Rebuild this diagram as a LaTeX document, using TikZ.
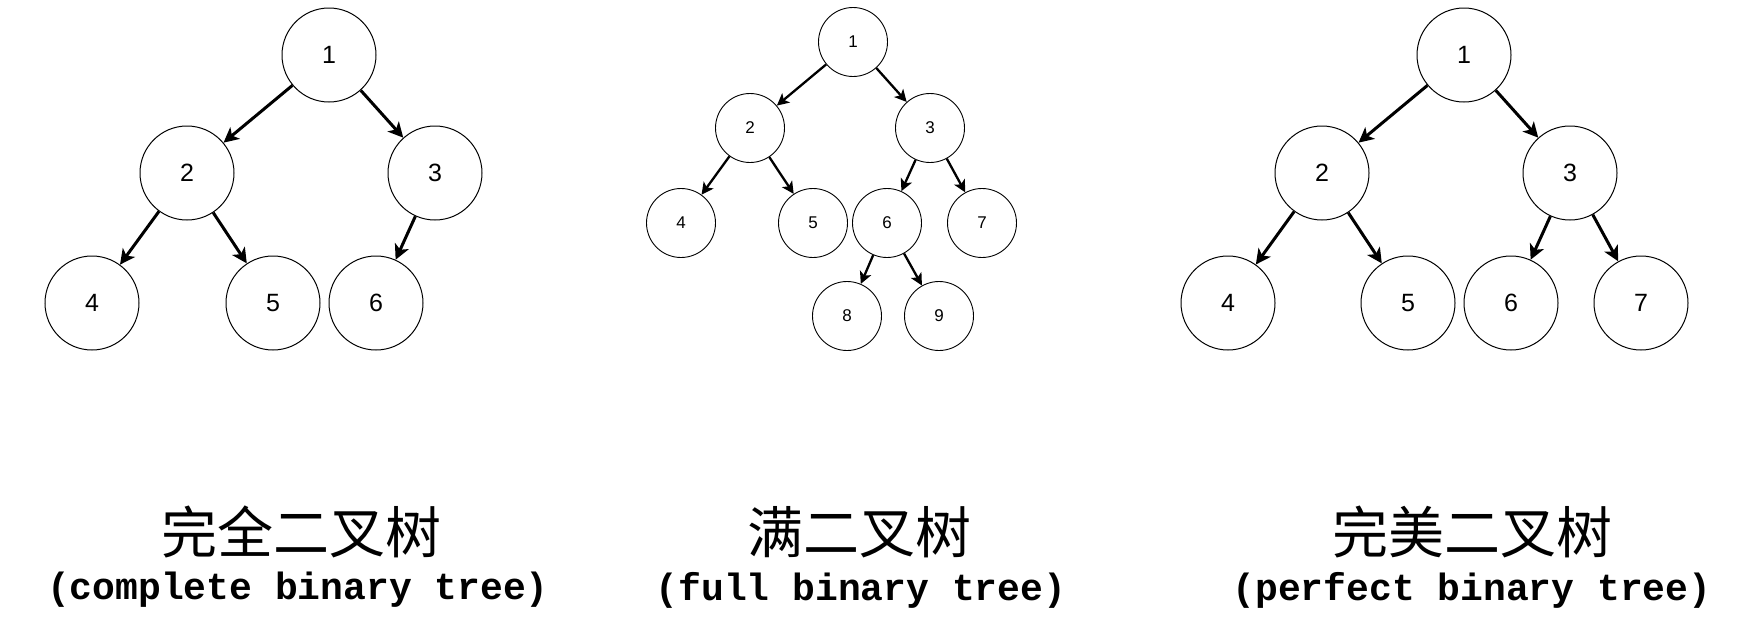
\documentclass[tikz,border=0pt]{standalone}
\usepackage{fontspec}
\setmainfont{Liberation Sans}
\newfontfamily\cjkfont{Noto Sans CJK SC}
\newfontfamily\monofont{Liberation Mono}
\usetikzlibrary{arrows.meta,shapes.geometric}
\tikzset{
  bignode/.style={circle,draw,line width=1pt,minimum size=94pt,inner sep=0pt,font=\fontsize{25}{25}\selectfont},
  smallnode/.style={circle,draw,line width=0.9pt,minimum size=69pt,inner sep=0pt,font=\fontsize{17}{17}\selectfont},
  bigedge/.style={line width=3pt,-{Stealth[length=15pt,width=15pt,inset=4pt]}},
  smalledge/.style={line width=2.3pt,-{Stealth[length=12pt,width=12pt,inset=3pt]}},
  cjktitle/.style={font=\cjkfont\fontsize{56}{56}\selectfont},
  engtitle/.style={font=\monofont\bfseries\fontsize{38}{38}\selectfont},
}
\begin{document}
\begin{tikzpicture}[x=1pt,y=-1pt]
\useasboundingbox (0,0) rectangle (1764,624);
% complete binary tree
\node[bignode] (a1) at (329,55) {1};
\node[bignode] (a2) at (187,173) {2};
\node[bignode] (a3) at (435,173) {3};
\node[bignode] (a4) at (92,303) {4};
\node[bignode] (a5) at (273,303) {5};
\node[bignode] (a6) at (376,303) {6};
\draw[bigedge] (a1) -- (a2);
\draw[bigedge] (a1) -- (a3);
\draw[bigedge] (a2) -- (a4);
\draw[bigedge] (a2) -- (a5);
\draw[bigedge] (a3) -- (a6);
% full binary tree
\node[smallnode] (b1) at (853,42) {1};
\node[smallnode] (b2) at (750,128) {2};
\node[smallnode] (b3) at (930,128) {3};
\node[smallnode] (b4) at (681,223) {4};
\node[smallnode] (b5) at (813,223) {5};
\node[smallnode] (b6) at (887,223) {6};
\node[smallnode] (b7) at (982,223) {7};
\node[smallnode] (b8) at (847,316) {8};
\node[smallnode] (b9) at (939,316) {9};
\draw[smalledge] (b1) -- (b2);
\draw[smalledge] (b1) -- (b3);
\draw[smalledge] (b2) -- (b4);
\draw[smalledge] (b2) -- (b5);
\draw[smalledge] (b3) -- (b6);
\draw[smalledge] (b3) -- (b7);
\draw[smalledge] (b6) -- (b8);
\draw[smalledge] (b6) -- (b9);
% perfect binary tree
\node[bignode] (c1) at (1464,55) {1};
\node[bignode] (c2) at (1322,173) {2};
\node[bignode] (c3) at (1570,173) {3};
\node[bignode] (c4) at (1228,303) {4};
\node[bignode] (c5) at (1408,303) {5};
\node[bignode] (c6) at (1511,303) {6};
\node[bignode] (c7) at (1641,303) {7};
\draw[bigedge] (c1) -- (c2);
\draw[bigedge] (c1) -- (c3);
\draw[bigedge] (c2) -- (c4);
\draw[bigedge] (c2) -- (c5);
\draw[bigedge] (c3) -- (c6);
\draw[bigedge] (c3) -- (c7);
% titles
\node[cjktitle] (t1) at (301,532) {完全二叉树};
\node[cjktitle] (t2) at (859,532) {满二叉树};
\node[cjktitle] (t3) at (1472,532) {完美二叉树};
\node[engtitle] (e1) at (298,590) {(complete binary tree)};
\node[engtitle] (e2) at (861,590) {(full binary tree)};
\node[engtitle] (e3) at (1472,590) {(perfect binary tree)};
\end{tikzpicture}
\end{document}
